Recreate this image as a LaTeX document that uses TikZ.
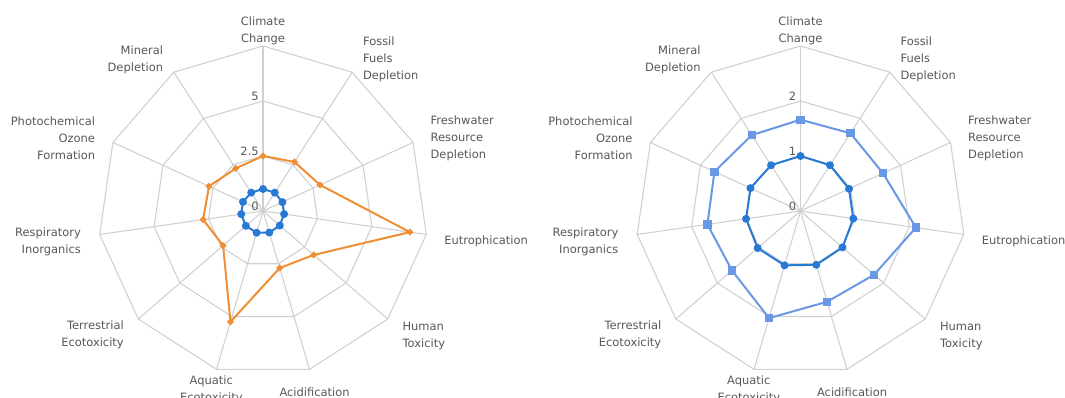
\documentclass[tikz,border=0pt]{standalone}
\usepackage{fontspec}
\setmainfont{DejaVu Sans}
\usetikzlibrary{positioning,shapes}

\definecolor{gridgray}{RGB}{208,208,208}
\definecolor{textgray}{RGB}{88,88,88}
\definecolor{impactorange}{RGB}{240,142,52}
\definecolor{baseblue}{RGB}{40,120,214}
\definecolor{lightblue}{RGB}{104,152,230}

\tikzset{
  grid line/.style={draw=gridgray, line width=0.8pt},
  axis label/.style={text=textgray, inner sep=0pt, font=\fontsize{8.6}{12.75}\selectfont},
  tick label/.style={text=textgray, inner sep=0pt, anchor=south east, font=\fontsize{8.6}{10}\selectfont},
  series/.style={line width=1.5pt, line join=round},
  circle mark/.style={circle, fill=baseblue, inner sep=0pt, minimum size=6pt},
  diamond mark/.style={diamond, fill=impactorange, inner sep=0pt, minimum size=5.5pt},
  square mark/.style={rectangle, fill=lightblue, inner sep=0pt, minimum size=6.2pt},
}

\begin{document}
\begin{tikzpicture}[x=0.75pt, y=0.75pt]

\fill[white] (0,0) rectangle (1065,398);
\useasboundingbox (0,0) rectangle (1065,398);

% the two frames: rings, spokes, axis names and ticks
\foreach \cx/\name/\tmid/\thigh in {263/L/2.5/5, 800.5/R/1/2} {
  \begin{scope}[shift={(\cx,187)}]
    \coordinate (\name-c) at (0,0);
    \foreach \k in {0,...,10}
      \coordinate (\name-v\k) at ({90-\k*360/11}:165);
    \foreach \ring in {55,110,165}
      \draw[grid line] (90:\ring) \foreach \k in {1,...,10} { -- ({90-\k*360/11}:\ring) } -- cycle;
    \foreach \k in {0,...,10}
      \draw[grid line] (\name-c) -- (\name-v\k);

    \foreach \k/\x/\y/\anc/\al/\txt in {
        0/0/180.5/center/center/{Climate\\Change},
        1/99.8/151.5/west/left/{Fossil\\Fuels\\Depletion},
        2/167.4/72.5/west/left/{Freshwater\\Resource\\Depletion},
        3/181/-29.9/west/left/{Eutrophication},
        4/139.3/-124.9/west/left/{Human\\Toxicity},
        5/51.6/-181/center/center/{Acidification},
        6/-51.7/-179/center/center/{Aquatic\\Ecotoxicity},
        7/-139/-124/east/right/{Terrestrial\\Ecotoxicity},
        8/-181.9/-30.5/east/right/{Respiratory\\Inorganics},
        9/-167.7/72.5/east/right/{Photochemical\\Ozone\\Formation},
        10/-99.7/151.5/east/right/{Mineral\\Depletion}}
      \node[axis label, anchor=\anc, align=\al] (\name-a\k) at (\x,\y) {\txt};

    \node[tick label] (\name-t0) at (-4,0) {0};
    \node[tick label] (\name-t1) at (-4,55) {\tmid};
    \node[tick label] (\name-t2) at (-4,110) {\thigh};
  \end{scope}
}

% left chart, 0 to 7.5
\begin{scope}[shift={(263,187)}]
  \foreach \v [count=\k from 0] in {2.5,2.65,2.85,6.75,3.05,2.7,5.25,2.4,2.75,2.7,2.3}
    \coordinate (Lo\k) at ({90-\k*360/11}:{\v*22});
  \foreach \v [count=\k from 0] in {1,0.99,0.97,0.97,1.01,1.02,1.03,1.03,1,1,0.99}
    \coordinate (Lb\k) at ({90-\k*360/11}:{\v*22});

  \draw[series, impactorange] (Lo0) \foreach \k in {1,...,10} { -- (Lo\k) } -- cycle;
  \foreach \k in {0,...,10}
    \node[diamond mark] (Lom\k) at (Lo\k) {};

  \draw[series, baseblue] (Lb0) \foreach \k in {1,...,10} { -- (Lb\k) } -- cycle;
  \foreach \k in {0,...,10}
    \node[circle mark] (Lbm\k) at (Lb\k) {};
\end{scope}

% right chart, 0 to 3
\begin{scope}[shift={(800.5,187)}]
  \foreach \v [count=\k from 0] in {1.66,1.68,1.65,2.12,1.77,1.72,2.03,1.65,1.71,1.72,1.64}
    \coordinate (Rl\k) at ({90-\k*360/11}:{\v*55});
  \foreach \v [count=\k from 0] in {1,0.99,0.97,0.97,1.01,1.02,1.03,1.03,1,1,0.99}
    \coordinate (Rb\k) at ({90-\k*360/11}:{\v*55});

  \draw[series, lightblue] (Rl0) \foreach \k in {1,...,10} { -- (Rl\k) } -- cycle;
  \foreach \k in {0,...,10}
    \node[square mark] (Rlm\k) at (Rl\k) {};

  \draw[series, baseblue] (Rb0) \foreach \k in {1,...,10} { -- (Rb\k) } -- cycle;
  \foreach \k in {0,...,10}
    \node[circle mark] (Rbm\k) at (Rb\k) {};
\end{scope}

\end{tikzpicture}
\end{document}
